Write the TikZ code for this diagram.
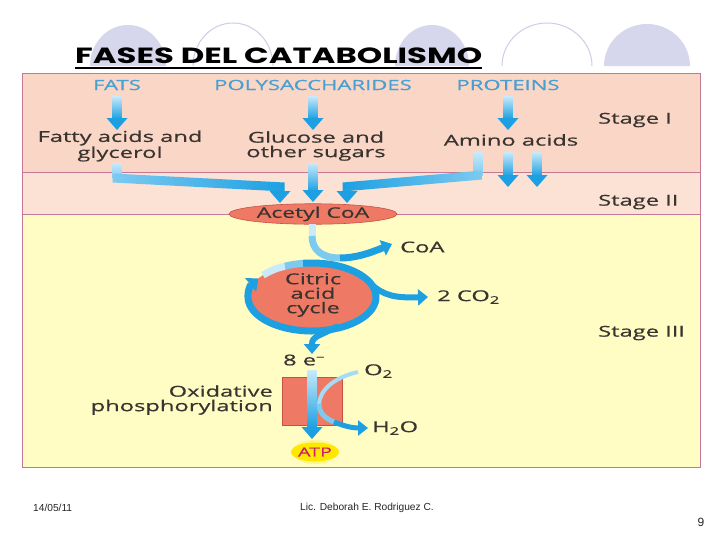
\documentclass[tikz,border=0pt]{standalone}
\usepackage{fontspec}
\usetikzlibrary{arrows.meta, calc, positioning, shapes.geometric}
\setmainfont{Liberation Sans}
\newfontfamily\bodyfont{Open Sans}[FakeStretch=1.58, FakeBold=0.6]
\newfontfamily\titlefont{Poppins}[FakeStretch=1.47]

\definecolor{stageone}{RGB}{249,214,198}
\definecolor{stagetwo}{RGB}{251,226,213}
\definecolor{stagethree}{RGB}{255,252,196}
\definecolor{edge}{RGB}{196,120,150}
\definecolor{flow}{RGB}{28,160,226}
\definecolor{paleflow}{RGB}{200,234,250}
\definecolor{midflow}{RGB}{125,202,240}
\definecolor{salmon}{RGB}{238,122,102}
\definecolor{salmonedge}{RGB}{200,80,66}
\definecolor{labelblue}{RGB}{72,160,210}
\definecolor{ink}{RGB}{58,52,48}
\definecolor{lavender}{RGB}{214,214,236}
\definecolor{lavedge}{RGB}{205,205,230}
\definecolor{atpink}{RGB}{205,30,110}
\definecolor{atpyellow}{RGB}{255,232,0}
\definecolor{atpglow}{RGB}{255,246,140}

\tikzset{
  txt/.style={font=\bodyfont\fontsize{15}{14.5}\selectfont, text=ink, inner sep=0pt, align=center},
  src/.style={font=\bodyfont\fontsize{14}{14}\selectfont, text=labelblue, inner sep=0pt},
  foot/.style={font=\fontsize{10.2}{11}\selectfont, text=black!85, inner sep=0pt},
  bigtip/.style={-{Triangle[width=21pt,length=12pt]}},
  smalltip/.style={-{Triangle[width=16pt,length=10pt]}}
}

% vertical fat arrow, light at the top
\newcommand{\drop}[2]{%
  \shade[top color=paleflow, bottom color=flow] ($(#1)+(-4.5,0)$) rectangle ($(#2)+(4.5,-11)$);
  \fill[flow] ($(#2)+(-10.5,-12)$) -- ($(#2)+(10.5,-12)$) -- (#2) -- cycle;}

\begin{document}
\begin{tikzpicture}[x=1pt, y=-1pt]
  \useasboundingbox (0,0) rectangle (728,546);
  \fill[white] (0,0) rectangle (728,546);

  % decoration behind the title
  \fill[lavender] (90,66) arc[start angle=180, end angle=360, x radius=38, y radius=41] -- cycle;
  \draw[lavedge, line width=1pt] (193,66) arc[start angle=180, end angle=360, x radius=40, y radius=43];
  \fill[lavender] (395,66) arc[start angle=180, end angle=360, x radius=37, y radius=41] -- cycle;
  \draw[lavedge, line width=1pt] (502,66) arc[start angle=180, end angle=360, x radius=45, y radius=43];
  \fill[lavender] (604,66) arc[start angle=180, end angle=360, x radius=43, y radius=42] -- cycle;

  \node[anchor=base west, inner sep=0pt] (title) at (75,63) {\titlefont\bfseries\fontsize{22}{24}\selectfont FASES DEL CATABOLISMO};
  \draw[line width=1.4pt] ([yshift=-5pt]title.base west) -- ([yshift=-5pt]title.base east);

  % the three stages
  \fill[stageone] (22,73) rectangle (700,172);
  \fill[stagetwo] (22,172) rectangle (700,214);
  \fill[stagethree] (22,214) rectangle (700,467);
  \draw[edge, line width=0.8pt] (22,172) -- (700,172);
  \draw[edge, line width=0.8pt] (22,214) -- (700,214);
  \draw[edge, line width=0.9pt] (22,73) rectangle (700,467);

  \node[txt, anchor=west] (stage1) at (598,120) {Stage I};
  \node[txt, anchor=west] (stage2) at (598,202) {Stage II};
  \node[txt, anchor=west] (stage3) at (598,333) {Stage III};

  % stage I
  \node[src] (fats) at (117,85) {FATS};
  \node[src] (poly) at (313,85) {POLYSACCHARIDES};
  \node[src] (prot) at (508,85) {PROTEINS};
  \node[txt] (fatty) at (120,146) {Fatty acids and\\glycerol};
  \node[txt] (gluc) at (316,146) {Glucose and\\other sugars};
  \node[txt] (amino) at (511,140) {Amino acids};

  \coordinate (fatsend) at (117,130);
  \coordinate (polyend) at (313,130);
  \coordinate (protend) at (508,130);
  \drop{117,96}{fatsend}
  \drop{313,96}{polyend}
  \drop{508,96}{protend}

  % stage II
  \node[ellipse, fill=salmon, draw=salmonedge, line width=0.6pt, minimum width=168pt, minimum height=16pt, inner sep=0pt,
        font=\bodyfont\fontsize{14.5}{14}\selectfont, text=ink] (acetyl) at (313,214) {Acetyl CoA};

  \shade[top color=paleflow, bottom color=midflow] (112.5,163) rectangle (121.5,178);
  \shade[left color=midflow, right color=flow] (112.5,173.5) -- (284.5,182.5) -- (284.5,191.5) -- (112.5,182.5) -- cycle;
  \fill[flow] (269.5,191) -- (290.5,191) -- (280,203) -- cycle;

  \coordinate (glucend) at (313,202);
  \drop{313,163}{glucend}

  \shade[top color=paleflow, bottom color=midflow] (473.5,152) rectangle (482.5,175);
  \shade[right color=midflow, left color=flow] (482.5,170.5) -- (342.5,182.5) -- (342.5,191.5) -- (482.5,179.5) -- cycle;
  \fill[flow] (336.5,191) -- (357.5,191) -- (347,203) -- cycle;

  \coordinate (aminoA) at (508,187);
  \coordinate (aminoB) at (537,187);
  \drop{508,152}{aminoA}
  \drop{537,152}{aminoB}

  % stage III
  \node[txt, anchor=west] (coa) at (400,247) {CoA};
  \draw[line width=7pt, paleflow] (312,224) -- (312,236);
  \draw[line width=7pt, midflow] (312,236) .. controls (312,250) and (322,258) .. (340,258);
  \draw[line width=7pt, flow, smalltip] (340,258) .. controls (356,258) and (370,253) .. (392,244);

  \fill[salmon] (312,297) ellipse [x radius=64, y radius=34];
  \draw[line width=7pt, paleflow] (312,297) ++(220:64 and 34) arc[start angle=220, end angle=245, x radius=64, y radius=34];
  \draw[line width=7pt, midflow] (312,297) ++(245:64 and 34) arc[start angle=245, end angle=263, x radius=64, y radius=34];
  \draw[line width=7pt, flow, -{Triangle[width=17pt,length=10pt]}] (312,297) ++(262:64 and 34) arc[start angle=262, end angle=573, x radius=64, y radius=34];
  \node[txt] (cycle) at (313,295) {Citric\\acid\\cycle};

  \node[txt, anchor=west] (co2) at (437,297) {2 CO\textsubscript{2}};
  \draw[line width=6pt, flow, smalltip] (371,284) .. controls (384,296) and (396,298) .. (428,297);

  \node[txt] (elec) at (304,360) {8 e\textsuperscript{–}};
  \draw[line width=6pt, flow, smalltip] (338,326) .. controls (318,337) and (312,336) .. (312,354);

  \node[draw=salmonedge, fill=salmon, line width=0.6pt, minimum width=60pt, minimum height=48pt, inner sep=0pt] (oxbox) at (312,401) {};
  \node[txt, anchor=east, align=right] (oxlabel) at (273,400) {Oxidative\\phosphorylation};
  \coordinate (oxend) at (312,439);
  \drop{312,370}{oxend}

  \node[txt, anchor=west] (otwo) at (364,371) {O\textsubscript{2}};
  \node[txt, anchor=west] (water) at (372,428) {H\textsubscript{2}O};
  \draw[line width=4pt, paleflow!80!flow] (358,372) .. controls (332,378) and (320,391) .. (319,404);
  \draw[line width=5pt, midflow] (319,404) .. controls (319,412) and (324,418) .. (334,422);
  \draw[line width=5pt, flow, -{Triangle[width=15pt,length=10pt]}] (334,422) .. controls (344,426) and (352,428) .. (368,428);

  \fill[atpglow] (315,452) ellipse [x radius=23, y radius=12];
  \node[ellipse, fill=atpyellow, minimum width=40pt, minimum height=19pt, inner sep=0pt,
        font=\bodyfont\fontsize{12.5}{13}\selectfont, text=atpink] (atp) at (315,452) {ATP};

  % footer
  \node[foot, anchor=west] (date) at (33,508) {14/05/11};
  \node[foot, anchor=west] (author) at (300,508) {Lic. Deborah E. Rodriguez C.};
  \node[foot, font=\fontsize{12}{14}\selectfont] (page) at (701,522) {9};
\end{tikzpicture}
\end{document}
